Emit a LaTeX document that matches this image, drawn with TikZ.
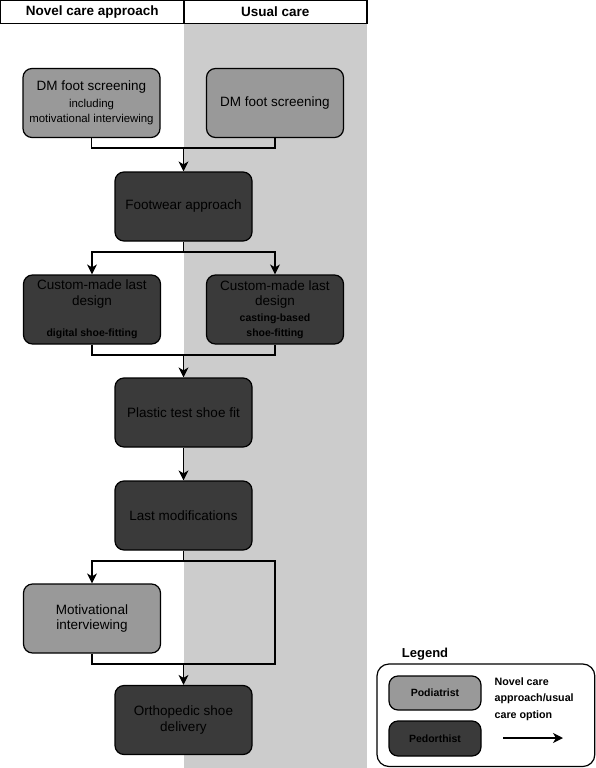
\documentclass[tikz,border=0pt]{standalone}
\usepackage{xcolor}
\usepackage{fontspec}
\setmainfont{Liberation Sans}
\usepackage{tikz}
\usetikzlibrary{arrows.meta}

\definecolor{bandgray}{HTML}{CCCCCC}
\definecolor{podgray}{HTML}{999999}
\definecolor{pedgray}{HTML}{3A3A3A}
\newcommand{\mainft}{\fontsize{13.5}{15.5}\selectfont}
\newcommand{\subft}{\fontsize{10.5}{16.5}\selectfont\bfseries}
\newcommand{\smallft}{\fontsize{11.4}{15}\selectfont}

\begin{document}
\begin{tikzpicture}[x=1pt, y=-1pt,
    hdr/.style={draw, line width=1.2pt, minimum width=183.5pt, minimum height=23pt,
        inner sep=0pt, font=\fontsize{13.5}{15}\selectfont\bfseries},
    stepbox/.style={draw, line width=1.2pt, rounded corners=9pt, minimum width=137pt,
        minimum height=69pt, inner sep=2pt, align=center, font=\mainft},
    podbox/.style={stepbox, fill=podgray},
    pedbox/.style={stepbox, fill=pedgray},
    arr/.style={-{Stealth[length=10pt, width=10pt, inset=3pt]}},
    line width=1.2pt]
        \useasboundingbox (0,0) rectangle (596,768);
        \fill[bandgray] (183.5,23) rectangle (367,768);

        % column headers
        \node[hdr] (hl) at (92.2,11.8) {Novel care approach};
        \node[hdr] (hr) at (275.3,11.8) {Usual care};

        % flow boxes
        \node[podbox] (dmL) at (91.5,103) {DM foot screening\\[1pt]{\smallft including}\\{\smallft motivational interviewing}};
        \node[podbox] (dmR) at (275,103) {DM foot screening};
        \node[pedbox] (foot) at (183.5,206.5) {Footwear approach};
        \node[pedbox] (custL) at (92,309.5) {Custom-made last\\design\\[16pt]{\subft digital shoe-fitting}};
        \node[pedbox] (custR) at (275,309.5) {Custom-made last\\design\\{\subft casting-based}\\{\subft shoe-fitting}};
        \node[pedbox] (plastic) at (183.5,412.5) {Plastic test shoe fit};
        \node[pedbox] (lastmod) at (183.5,515.5) {Last modifications};
        \node[podbox] (motiv) at (92,618.5) {Motivational\\interviewing};
        \node[pedbox] (ortho) at (183.5,720) {Orthopedic shoe\\delivery};

        % junctions
        \coordinate (j1) at (183.5,148);
        \coordinate (j2) at (183.5,252);
        \coordinate (j3) at (183.5,355);
        \coordinate (j4) at (183.5,561);
        \coordinate (j5) at (183.5,664);
        \coordinate (r4) at (275,561);
        \coordinate (r5) at (275,664);

        \draw (dmL.south) |- (j1) -| (dmR.south);
        \draw[arr] (j1) -- (foot.north);
        \draw (foot.south) -- (j2);
        \draw[arr] (j2) -| (custL.north);
        \draw[arr] (j2) -| (custR.north);
        \draw (custL.south) |- (j3) -| (custR.south);
        \draw[arr] (j3) -- (plastic.north);
        \draw[arr] (plastic.south) -- (lastmod.north);
        \draw (lastmod.south) -- (j4);
        \draw[arr] (j4) -| (motiv.north);
        \draw (j4) -- (r4) -- (r5) -- (j5);
        \draw (motiv.south) |- (j5);
        \draw[arr] (j5) -- (ortho.north);

        % legend
        \node[anchor=west, font=\fontsize{13}{15}\selectfont\bfseries] (legtitle) at (398,654) {Legend};
        \draw[rounded corners=12pt] (377,664) rectangle (594.8,766.5);
        \node[podbox, minimum width=92pt, minimum height=34pt, font=\subft] (podleg) at (435,693) {Podiatrist};
        \node[pedbox, minimum width=92pt, minimum height=35pt, font=\subft] (pedleg) at (435,738.5) {Pedorthist};
        \node[anchor=north west, align=left, inner sep=0pt,
            font=\fontsize{10.7}{16.5}\selectfont\bfseries] (legtext) at (494,677) {Novel care\\approach/usual\\care option};
        \coordinate (a1) at (503,738);
        \coordinate (a2) at (563,738);
        \draw[arr] (a1) -- (a2);
\end{tikzpicture}
\end{document}
